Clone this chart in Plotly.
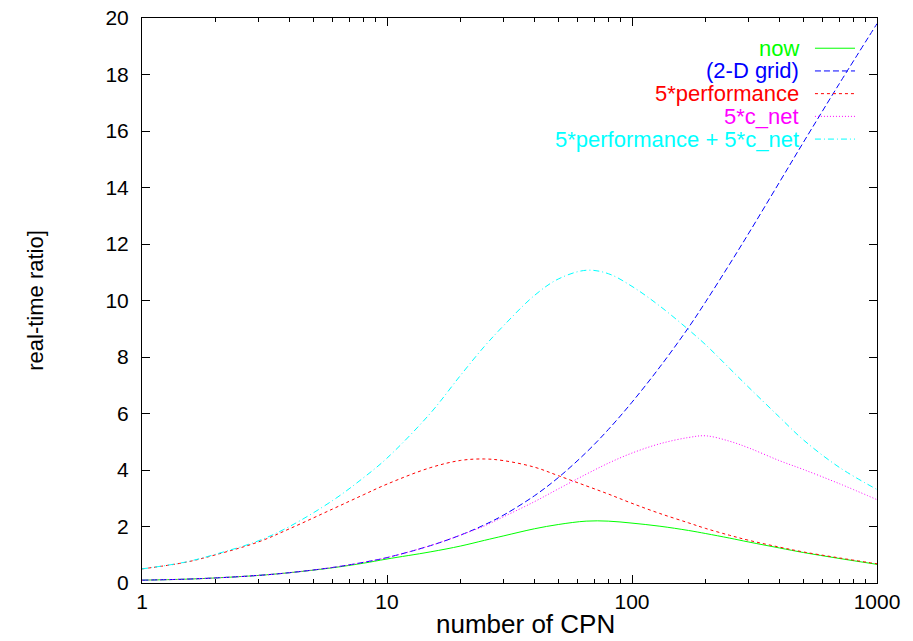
import plotly.graph_objects as go

# ---- data ----
cpn = [1, 1.5, 2, 3, 4, 6, 8, 10, 15, 20, 25, 30, 40, 50, 65, 80, 100,
       130, 170, 200, 250, 300, 400, 500, 700, 1000]

now = [0.10, 0.135, 0.18, 0.27, 0.365, 0.54, 0.70, 0.85, 1.10, 1.31, 1.51, 1.67,
       1.92, 2.07, 2.19, 2.19, 2.12, 2.01, 1.86, 1.75, 1.59, 1.45, 1.24, 1.08,
       0.87, 0.66]

grid2d = [0.10, 0.135, 0.18, 0.27, 0.365, 0.55, 0.73, 0.90, 1.32, 1.70, 2.06, 2.41,
          3.09, 3.73, 4.62, 5.43, 6.40, 7.65, 9.04, 9.96, 11.28, 12.39, 14.19,
          15.59, 17.66, 19.80]

perf5 = [0.50, 0.73, 1.00, 1.46, 1.92, 2.62, 3.12, 3.50, 4.08, 4.34, 4.39, 4.33,
         4.10, 3.80, 3.44, 3.15, 2.82, 2.46, 2.13, 1.93, 1.69, 1.51, 1.27, 1.10,
         0.89, 0.68]

cnet5 = [0.10, 0.135, 0.18, 0.27, 0.365, 0.55, 0.73, 0.90, 1.32, 1.70, 2.02, 2.35,
         2.88, 3.33, 3.85, 4.24, 4.60, 4.93, 5.15, 5.21, 5.02, 4.78, 4.33, 4.02,
         3.52, 2.95]

sum5 = [0.50, 0.74, 1.02, 1.50, 2.00, 2.92, 3.72, 4.42, 6.00, 7.36, 8.38, 9.12,
        10.18, 10.76, 11.07, 10.95, 10.50, 9.80, 8.97, 8.43, 7.60, 6.92, 5.87, 5.07,
        4.10, 3.31]

labels = ["now", "(2-D grid)", "5*performance", "5*c_net", "5*performance + 5*c_net"]
colors = ["#00ff00", "#0000ff", "#ff0000", "#ff00ff", "#00ffff"]
dashes = ["solid", "6px,3px", "3px,3px", "1px,2px", "6px,3px,1px,3px"]
series = [now, grid2d, perf5, cnet5, sum5]

x_ticks = [1, 10, 100, 1000]
x_minor = [m * d for d in (1, 10, 100) for m in range(2, 10)]
y_ticks = list(range(0, 21, 2))

x_title = "number of CPN"
y_title = "real-time ratio]"

FONT = "Liberation Sans, Arial, Helvetica, sans-serif"

fig = go.Figure()
for lab, ys, col, dsh in zip(labels, series, colors, dashes):
    fig.add_trace(go.Scatter(x=cpn, y=ys, mode="lines", name=lab,
                             line=dict(color=col, width=1, dash=dsh, shape="spline",
                                       smoothing=1.0),
                             showlegend=False))

# gnuplot-style key: right-aligned text with a line sample on its right
y0 = 0.9465
dy = 0.0402
for i, (lab, col, dsh) in enumerate(zip(labels, colors, dashes)):
    yy = y0 - i * dy
    fig.add_annotation(xref="paper", yref="paper", x=0.8966, y=yy, text=lab,
                       showarrow=False, xanchor="right", yanchor="middle",
                       font=dict(family=FONT, size=22, color=col))
    fig.add_shape(type="line", xref="paper", yref="paper", x0=0.9156, x1=0.9701,
                  y0=yy, y1=yy, line=dict(color=col, width=1, dash=dsh))

# x-axis label (placed as in the reference, slightly right of centre)
fig.add_annotation(xref="paper", yref="paper", x=0.5224, y=-0.1005, text=x_title,
                   showarrow=False, xanchor="center", yanchor="bottom", borderpad=0,
                   font=dict(family=FONT, size=26, color="black"))

fig.update_xaxes(type="log", range=[0, 3], tickvals=x_ticks,
                 ticktext=[str(v) for v in x_ticks],
                 ticks="inside", ticklen=8, tickwidth=1, tickcolor="black",
                 minor=dict(tickvals=x_minor, ticks="inside", ticklen=4,
                            tickwidth=1, tickcolor="black", showgrid=False),
                 showline=True, linecolor="black", linewidth=1, mirror="ticks",
                 showgrid=False, zeroline=False,
                 tickfont=dict(family=FONT, size=21, color="black"),
                 ticklabelstandoff=0, ticklabeloverflow="allow")
fig.update_yaxes(range=[0, 20], tickvals=y_ticks,
                 ticks="inside", ticklen=8, tickwidth=1, tickcolor="black",
                 showline=True, linecolor="black", linewidth=1, mirror="ticks",
                 showgrid=False, zeroline=False,
                 tickfont=dict(family=FONT, size=21, color="black"),
                 ticklabelstandoff=8, ticklabeloverflow="allow",
                 title=dict(text=y_title, standoff=55,
                            font=dict(family=FONT, size=22, color="black")))

fig.update_layout(width=913, height=641,
                  margin=dict(l=142, r=36, t=18, b=58, autoexpand=False),
                  plot_bgcolor="white", paper_bgcolor="white",
                  showlegend=False)

# remove the page's default 8px body margin so the figure fills the window
fig.write_html("out.html", config={"displayModeBar": False},
               post_script="document.body.style.margin='0px';"
                           "document.body.style.overflow='hidden';")
